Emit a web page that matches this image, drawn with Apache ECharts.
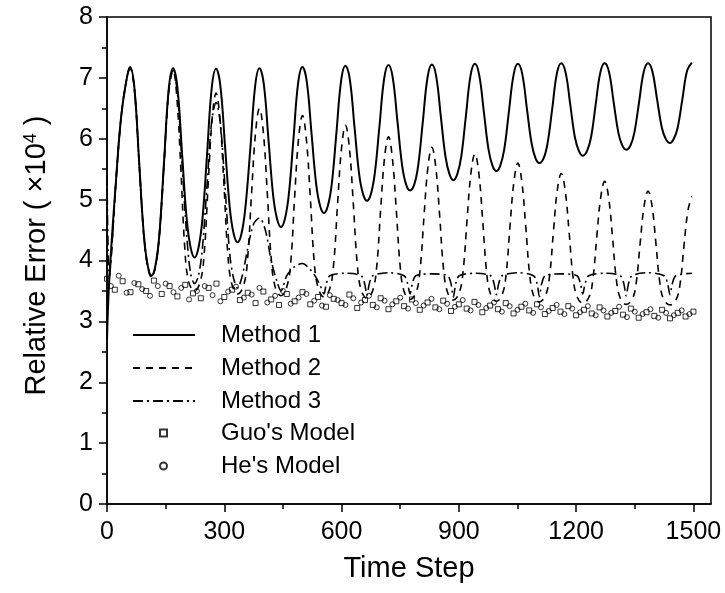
<!DOCTYPE html>
<html style="height: 100%">

<head>
    <meta charset="utf-8">
</head>

<body style="height: 100%; margin: 0; background: #fff">
    <div id="container" style="width: 725px; height: 593px"></div>
    <script src="https://cdn.jsdelivr.net/npm/echarts@6/dist/echarts.min.js"></script>
    <script type="text/javascript">
        // tick labels
        var xTicks = [0, 300, 600, 900, 1200, 1500];
        var xMinorTicks = [150, 450, 750, 1050, 1350];

        // [time step, relative error x1e4]
        var method1 = [
            [0, 2.7], [6, 3.7], [24, 5.4], [36, 6.35], [48, 6.9], [59, 7.18],
            [70, 6.84], [82, 5.64], [94, 4.44], [104, 3.92], [114, 3.75],
            [124, 3.92], [134, 4.43], [146, 5.63], [158, 6.82], [169, 7.16],
            [180, 6.85], [192, 5.76], [204, 4.67], [214, 4.21], [224, 4.05],
            [234, 4.21], [244, 4.67], [256, 5.75], [268, 6.84], [279, 7.15],
            [290, 6.87], [302, 5.87], [314, 4.87], [324, 4.44], [334, 4.30],
            [344, 4.44], [354, 4.87], [367, 5.87], [379, 6.87], [390, 7.16],
            [401, 6.90], [413, 5.99], [425, 5.07], [435, 4.68], [445, 4.55],
            [455, 4.68], [465, 5.08], [477, 6.00], [489, 6.92], [500, 7.18],
            [511, 6.94], [523, 6.10], [535, 5.26], [545, 4.90], [555, 4.78],
            [565, 4.90], [575, 5.26], [587, 6.11], [599, 6.96], [610, 7.20],
            [621, 6.98], [633, 6.20], [645, 5.42], [655, 5.09], [665, 4.98],
            [675, 5.09], [685, 5.43], [697, 6.21], [709, 6.99], [720, 7.21],
            [731, 7.00], [743, 6.28], [755, 5.56], [765, 5.25], [775, 5.15],
            [786, 5.25], [796, 5.56], [808, 6.29], [820, 7.01], [831, 7.22],
            [842, 7.03], [854, 6.36], [866, 5.70], [876, 5.42], [886, 5.32],
            [896, 5.42], [906, 5.70], [918, 6.37], [930, 7.04], [941, 7.23],
            [952, 7.05], [964, 6.44], [976, 5.82], [986, 5.56], [996, 5.47],
            [1006, 5.56], [1016, 5.82], [1028, 6.44], [1040, 7.05], [1051, 7.23],
            [1062, 7.07], [1074, 6.50], [1086, 5.93], [1096, 5.68], [1106, 5.60],
            [1117, 5.68], [1127, 5.93], [1139, 6.50], [1151, 7.08], [1162, 7.24],
            [1173, 7.09], [1185, 6.56], [1197, 6.02], [1207, 5.80], [1217, 5.72],
            [1228, 5.80], [1238, 6.02], [1250, 6.56], [1262, 7.09], [1273, 7.24],
            [1284, 7.10], [1296, 6.60], [1308, 6.10], [1318, 5.89], [1328, 5.82],
            [1339, 5.89], [1349, 6.10], [1361, 6.60], [1373, 7.10], [1384, 7.24],
            [1395, 7.11], [1407, 6.65], [1419, 6.19], [1429, 6.00], [1440, 5.93],
            [1450, 6.00], [1460, 6.19], [1472, 6.66], [1484, 7.12], [1496, 7.25]
        ];

        var method2 = [
            [0, 3.7], [6, 3.72], [24, 5.4], [36, 6.35], [48, 6.9], [59, 7.15],
            [70, 6.82], [82, 5.62], [94, 4.42], [104, 3.9], [114, 3.72],
            [124, 3.9], [134, 4.42], [146, 5.6], [158, 6.8], [169, 7.12],
            [179, 6.65], [189, 5.5], [199, 4.2], [209, 3.65], [224, 3.5],
            [239, 3.66], [249, 4.15], [259, 5.28], [269, 6.33], [279, 6.75],
            [289, 6.32], [299, 5.27], [309, 4.11], [319, 3.62], [334, 3.45],
            [350, 3.6], [360, 4.06], [370, 5.13], [380, 6.1], [390, 6.5],
            [400, 6.1], [410, 5.11], [420, 4.04], [430, 3.57], [445, 3.42],
            [460, 3.57], [470, 3.97], [480, 5.05], [490, 6.0], [500, 6.38],
            [510, 5.99], [520, 5.04], [530, 3.98], [540, 3.55], [555, 3.4],
            [570, 3.54], [580, 3.96], [590, 4.95], [600, 5.85], [610, 6.22],
            [620, 5.85], [630, 4.94], [640, 3.95], [650, 3.52], [665, 3.38],
            [680, 3.51], [690, 3.91], [700, 4.84], [710, 5.69], [720, 6.03],
            [730, 5.68], [740, 4.83], [750, 3.9], [760, 3.49], [775, 3.36],
            [791, 3.48], [801, 3.86], [811, 4.74], [821, 5.54], [831, 5.86],
            [841, 5.53], [851, 4.73], [861, 3.85], [871, 3.48], [886, 3.35],
            [901, 3.47], [911, 3.83], [921, 4.67], [931, 5.44], [941, 5.75],
            [951, 5.44], [961, 4.66], [971, 3.81], [981, 3.45], [996, 3.33],
            [1011, 3.44], [1021, 3.78], [1031, 4.58], [1041, 5.3], [1051, 5.6],
            [1061, 5.3], [1071, 4.57], [1081, 3.78], [1091, 3.43], [1106, 3.32],
            [1122, 3.43], [1132, 3.74], [1142, 4.48], [1152, 5.16], [1162, 5.43],
            [1172, 5.15], [1182, 4.47], [1192, 3.73], [1202, 3.41], [1217, 3.3],
            [1233, 3.4], [1243, 3.7], [1253, 4.4], [1263, 5.04], [1273, 5.3],
            [1283, 5.04], [1293, 4.39], [1303, 3.68], [1313, 3.38], [1328, 3.28],
            [1344, 3.37], [1354, 3.65], [1364, 4.3], [1374, 4.9], [1384, 5.14],
            [1394, 4.9], [1404, 4.29], [1414, 3.64], [1424, 3.36], [1440, 3.27],
            [1456, 3.36], [1466, 3.62], [1476, 4.25], [1486, 4.82], [1496, 5.05]
        ];

        var method3 = [
            [0, 5.4], [6, 3.75], [24, 5.4], [36, 6.35], [48, 6.9], [59, 7.18],
            [70, 6.84], [82, 5.64], [94, 4.44], [104, 3.92], [114, 3.75],
            [124, 3.9], [134, 4.42], [146, 5.6], [158, 6.8], [169, 7.12],
            [180, 6.76], [192, 5.6], [204, 4.4], [214, 3.78], [224, 3.62],
            [234, 3.75], [244, 4.2], [256, 5.25], [268, 6.3], [279, 6.6],
            [290, 6.25], [302, 5.2], [314, 4.1], [324, 3.7], [334, 3.55],
            [346, 3.75], [360, 4.2], [375, 4.6], [390, 4.7],
            [405, 4.5], [420, 4.0], [435, 3.65], [445, 3.5],
            [460, 3.75], [480, 3.9], [500, 3.95], [520, 3.85], [535, 3.72], [548, 3.55], [555, 3.45],
            [561, 3.62], [570, 3.75], [610, 3.79], [650, 3.75], [659, 3.62], [665, 3.43],
            [671, 3.62], [680, 3.75], [720, 3.8], [760, 3.75], [769, 3.62], [775, 3.45],
            [781, 3.62], [790, 3.75], [831, 3.78], [871, 3.75], [880, 3.62], [886, 3.40],
            [892, 3.62], [901, 3.75], [941, 3.79], [981, 3.75], [990, 3.62], [996, 3.44],
            [1002, 3.62], [1011, 3.75], [1051, 3.8], [1091, 3.75], [1100, 3.62], [1106, 3.41],
            [1112, 3.62], [1121, 3.75], [1162, 3.78], [1202, 3.75], [1211, 3.62], [1217, 3.45],
            [1223, 3.62], [1232, 3.75], [1273, 3.79], [1313, 3.75], [1322, 3.62], [1328, 3.42],
            [1334, 3.62], [1343, 3.75], [1384, 3.8], [1425, 3.75], [1434, 3.62], [1440, 3.44],
            [1446, 3.62], [1455, 3.75], [1496, 3.79]
        ];

        var guoModel = [
            [0, 3.70], [20, 3.52], [40, 3.66], [60, 3.48], [80, 3.61], [100, 3.50],
            [120, 3.67], [140, 3.45], [160, 3.58], [180, 3.41], [200, 3.60], [220, 3.46],
            [240, 3.38], [260, 3.55], [280, 3.62], [300, 3.40], [320, 3.52], [340, 3.35],
            [360, 3.47], [380, 3.30], [400, 3.49], [420, 3.36], [440, 3.27], [460, 3.45],
            [480, 3.33], [500, 3.48], [520, 3.28], [540, 3.40], [560, 3.24], [580, 3.37],
            [600, 3.30], [620, 3.44], [640, 3.22], [660, 3.35], [680, 3.27], [700, 3.38],
            [720, 3.20], [740, 3.33], [760, 3.25], [780, 3.36], [800, 3.19], [820, 3.31],
            [840, 3.23], [860, 3.34], [880, 3.17], [900, 3.28], [920, 3.21], [940, 3.32],
            [960, 3.15], [980, 3.26], [1000, 3.20], [1020, 3.30], [1040, 3.13], [1060, 3.24],
            [1080, 3.18], [1100, 3.28], [1120, 3.12], [1140, 3.22], [1160, 3.16], [1180, 3.25],
            [1200, 3.10], [1220, 3.19], [1240, 3.13], [1260, 3.23], [1280, 3.08], [1300, 3.17],
            [1320, 3.11], [1340, 3.21], [1360, 3.06], [1380, 3.15], [1400, 3.09], [1420, 3.19],
            [1440, 3.05], [1460, 3.14], [1480, 3.08], [1500, 3.16]
        ];

        var heModel = [
            [10, 3.58], [30, 3.75], [50, 3.47], [70, 3.63], [90, 3.53], [110, 3.42],
            [130, 3.58], [150, 3.62], [170, 3.48], [190, 3.55], [210, 3.36], [230, 3.50],
            [250, 3.58], [270, 3.43], [290, 3.33], [310, 3.49], [330, 3.57], [350, 3.39],
            [370, 3.44], [390, 3.55], [410, 3.31], [430, 3.42], [450, 3.50], [470, 3.29],
            [490, 3.39], [510, 3.45], [530, 3.34], [550, 3.26], [570, 3.43], [590, 3.35],
            [610, 3.27], [630, 3.38], [650, 3.31], [670, 3.42], [690, 3.23], [710, 3.34],
            [730, 3.28], [750, 3.39], [770, 3.21], [790, 3.30], [810, 3.26], [830, 3.37],
            [850, 3.20], [870, 3.29], [890, 3.24], [910, 3.35], [930, 3.18], [950, 3.27],
            [970, 3.22], [990, 3.31], [1010, 3.16], [1030, 3.25], [1050, 3.19], [1070, 3.29],
            [1090, 3.14], [1110, 3.23], [1130, 3.17], [1150, 3.27], [1170, 3.12], [1190, 3.21],
            [1210, 3.15], [1230, 3.25], [1250, 3.10], [1270, 3.18], [1290, 3.14], [1310, 3.24],
            [1330, 3.07], [1350, 3.16], [1370, 3.12], [1390, 3.20], [1410, 3.06], [1430, 3.14],
            [1450, 3.10], [1470, 3.18], [1490, 3.12]
        ];

        var font = 'Liberation Sans, Arial, sans-serif';
        var dom = document.getElementById("container");
        var myChart = echarts.init(dom);

        var openMarker = {
            color: 'rgba(0,0,0,0)',
            borderColor: '#000',
            borderWidth: 1
        };

        var option = {
            animation: false,
            backgroundColor: '#fff',
            grid: {
                left: 107, right: 14, top: 17, bottom: 89,
                show: true, borderColor: '#000', borderWidth: 1.5
            },
            legend: [{
                data: ['Method 1', 'Method 2', 'Method 3'],
                orient: 'vertical',
                left: 127, top: 318,
                itemWidth: 62, itemHeight: 14, itemGap: 9,
                selectedMode: false,
                itemStyle: { opacity: 0 },
                textStyle: { fontSize: 24, fontFamily: font, color: '#000', padding: [0, 0, 0, 21] }
            }, {
                data: ["Guo's Model", "He's Model"],
                orient: 'vertical',
                left: 154, top: 416,
                itemWidth: 7, itemHeight: 7, itemGap: 9,
                selectedMode: false,
                textStyle: { fontSize: 24, fontFamily: font, color: '#000', padding: [0, 0, 0, 49] }
            }],
            xAxis: [{
                type: 'value', min: 0, max: 1545,
                name: 'Time Step', nameLocation: 'middle', nameGap: 50,
                nameTextStyle: { fontSize: 29, fontFamily: font, color: '#000' },
                axisLine: { show: true, onZero: false, lineStyle: { color: '#000', width: 1.5 } },
                axisTick: { show: true, length: 8, customValues: xTicks, lineStyle: { color: '#000', width: 1.5 } },
                axisLabel: {
                    customValues: xTicks, fontSize: 25, margin: 16, color: '#000', fontFamily: font,
                    formatter: function (v) { return String(v); }
                },
                splitLine: { show: false }
            }, {
                type: 'value', min: 0, max: 1545, position: 'bottom',
                axisLine: { show: false },
                axisTick: { show: true, length: 5, customValues: xMinorTicks, lineStyle: { color: '#000', width: 1.5 } },
                axisLabel: { show: false },
                splitLine: { show: false }
            }],
            yAxis: {
                type: 'value', min: 0, max: 8, interval: 1,
                name: 'Relative Error ( ×10{sup|4} )', nameLocation: 'middle', nameGap: 56,
                nameTextStyle: {
                    fontSize: 29, fontFamily: font, color: '#000', padding: [0, 0, 0, 10],
                    rich: { sup: { fontSize: 18, fontFamily: font, color: '#000', verticalAlign: 'top', padding: [0, 0, 10, 0] } }
                },
                axisLine: { show: true, lineStyle: { color: '#000', width: 1.5 } },
                axisTick: { show: true, length: 8, lineStyle: { color: '#000', width: 1.5 } },
                minorTick: { show: true, splitNumber: 2, length: 5, lineStyle: { color: '#000', width: 1.5 } },
                axisLabel: { fontSize: 25, margin: 14, color: '#000', fontFamily: font },
                splitLine: { show: false }
            },
            series: [{
                name: 'Method 1', type: 'line', data: method1, smooth: 0.4,
                symbol: 'none', lineStyle: { color: '#000', width: 2, type: 'solid' }, itemStyle: { color: '#000' }
            }, {
                name: 'Method 2', type: 'line', data: method2, smooth: 0.4,
                symbol: 'none', lineStyle: { color: '#000', width: 1.6, type: [7, 6] }, itemStyle: { color: '#000' }
            }, {
                name: 'Method 3', type: 'line', data: method3, smooth: 0.3,
                symbol: 'none', lineStyle: { color: '#000', width: 1.6, type: [10, 4, 2, 4] }, itemStyle: { color: '#000' }
            }, {
                name: "Guo's Model", type: 'scatter', data: guoModel,
                symbol: 'rect', symbolSize: 5, itemStyle: openMarker
            }, {
                name: "He's Model", type: 'scatter', data: heModel,
                symbol: 'circle', symbolSize: 5, itemStyle: openMarker
            }]
        };

        myChart.setOption(option);
    </script>
</body>

</html>
